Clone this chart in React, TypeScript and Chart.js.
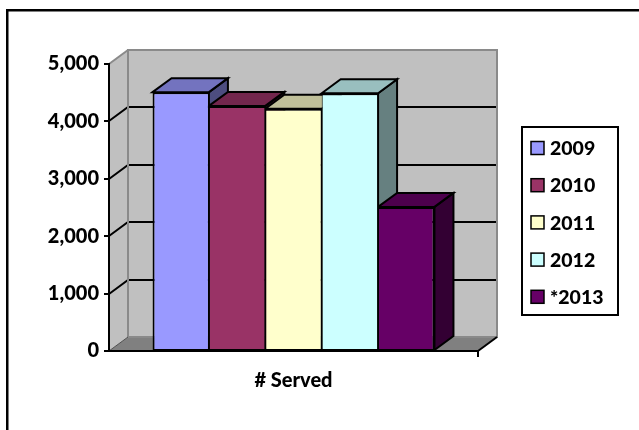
import { useEffect, useRef } from "react";
import { Chart, registerables } from "chart.js";

Chart.register(...registerables);

// Data
const categories = ["# Served"];
const years = ["2009", "2010", "2011", "2012", "*2013"];
const served = [4510, 4270, 4220, 4490, 2510];
const yearColors = ["#9999FF", "#993366", "#FFFFCC", "#CCFFFF", "#660066"];
const yMax = 5000;
const yStep = 1000;

const FONT = "Lato, 'Open Sans', sans-serif";
const WEIGHT = 900;
const DX = 19; // depth offset of the 3D box, x
const DY = -14; // depth offset of the 3D box, y

function shade(hex: string, f: number) {
  const n = parseInt(hex.slice(1), 16);
  const r = Math.round(((n >> 16) & 255) * f);
  const g = Math.round(((n >> 8) & 255) * f);
  const b = Math.round((n & 255) * f);
  return `rgb(${r},${g},${b})`;
}

function poly(
  ctx: CanvasRenderingContext2D,
  pts: number[][],
  fill?: string,
  stroke?: string,
  lw = 2
) {
  ctx.beginPath();
  ctx.moveTo(pts[0][0], pts[0][1]);
  for (let i = 1; i < pts.length; i++) ctx.lineTo(pts[i][0], pts[i][1]);
  ctx.closePath();
  if (fill) {
    ctx.fillStyle = fill;
    ctx.fill();
  }
  if (stroke) {
    ctx.strokeStyle = stroke;
    ctx.lineWidth = lw;
    ctx.stroke();
  }
}

function line(
  ctx: CanvasRenderingContext2D,
  pts: number[][],
  color: string,
  lw: number
) {
  ctx.beginPath();
  ctx.moveTo(pts[0][0], pts[0][1]);
  for (let i = 1; i < pts.length; i++) ctx.lineTo(pts[i][0], pts[i][1]);
  ctx.strokeStyle = color;
  ctx.lineWidth = lw;
  ctx.stroke();
}

const box3d = {
  id: "box3d",
  beforeDraw(chart: any) {
    const { ctx, chartArea: a, scales } = chart;
    const L = a.left, R = a.right, T = a.top, B = a.bottom;
    ctx.save();
    ctx.fillStyle = "#fff";
    ctx.fillRect(0, 0, chart.width, chart.height);

    // outer frame
    ctx.strokeStyle = "#000";
    ctx.lineWidth = 2.5;
    ctx.strokeRect(7.25, 10.25, 800, 600);

    // walls and floor
    poly(ctx, [[L, T], [L + DX, T + DY], [L + DX, B + DY], [L, B]], "#C0C0C0");
    poly(ctx, [[L + DX, T + DY], [R + DX, T + DY], [R + DX, B + DY], [L + DX, B + DY]], "#C0C0C0");
    poly(ctx, [[L, B], [R, B], [R + DX, B + DY], [L + DX, B + DY]], "#808080");

    // gridlines across side wall and back wall
    const y = scales.y;
    for (let v = yStep; v < yMax; v += yStep) {
      const py = Math.round(y.getPixelForValue(v));
      line(ctx, [[L, py], [L + DX, py + DY], [R + DX, py + DY]], "#000", 2);
    }

    // wall edges
    ctx.strokeStyle = "#8a8a8a";
    ctx.lineWidth = 2;
    ctx.strokeRect(L + DX, T + DY, R - L, B - T);
    line(ctx, [[L, T], [L + DX, T + DY]], "#8a8a8a", 2);
    line(ctx, [[L, B], [L + DX, B + DY]], "#505050", 1);
    line(ctx, [[R, B], [R + DX, B + DY]], "#000", 2);
    line(ctx, [[R, B], [R, B + 6]], "#000", 2);
    ctx.restore();
  },
  beforeDatasetsDraw(chart: any) {
    const { ctx } = chart;
    ctx.save();
    ctx.lineJoin = "miter";
    chart.data.datasets.forEach((ds: any, i: number) => {
      const meta = chart.getDatasetMeta(i);
      const color = yearColors[i];
      meta.data.forEach((bar: any) => {
        const { x, y, base, width } = bar.getProps(["x", "y", "base", "width"], true);
        const l = x - width / 2;
        const r = x + width / 2;
        poly(ctx, [[r, y], [r + DX, y + DY], [r + DX, base + DY], [r, base]], shade(color, 0.5), "#000", 2);
        poly(ctx, [[l, y], [l + DX, y + DY], [r + DX, y + DY], [r, y]], shade(color, 0.75), "#000", 2);
      });
    });
    ctx.restore();
  },
  afterDraw(chart: any) {
    const { ctx } = chart;
    ctx.save();
    // legend box
    ctx.fillStyle = "#fff";
    ctx.fillRect(522, 127, 96, 188);
    ctx.strokeStyle = "#000";
    ctx.lineWidth = 2;
    ctx.strokeRect(522, 127, 96, 188);
    ctx.font = `${WEIGHT} 19.5px ${FONT}`;
    ctx.textBaseline = "middle";
    ctx.textAlign = "left";
    years.forEach((yr, i) => {
      const cy = 148 + i * 37.2;
      ctx.fillStyle = yearColors[i];
      ctx.fillRect(531, cy - 6.5, 13, 13);
      ctx.lineWidth = 1.5;
      ctx.strokeStyle = "#000";
      ctx.strokeRect(531, cy - 6.5, 13, 13);
      ctx.fillStyle = "#000";
      ctx.fillText(yr, 550, cy + 1);
    });
    ctx.restore();
  },
};

export default function App() {
  const ref = useRef<HTMLCanvasElement | null>(null);

  useEffect(() => {
    if (!ref.current) return;
    const tickFont = { family: FONT, size: 20, weight: WEIGHT as any };
    const chart = new Chart(ref.current, {
      type: "bar",
      data: {
        labels: categories,
        datasets: years.map((yr, i) => ({
          label: yr,
          data: [served[i]],
          backgroundColor: yearColors[i],
          borderColor: "#000",
          borderWidth: {
            top: 2,
            bottom: 1,
            left: i === 0 ? 2 : 1,
            right: i === years.length - 1 ? 2 : 1,
          },
          borderSkipped: false,
          barPercentage: 1,
          categoryPercentage: 0.764,
        })),
      },
      options: {
        responsive: false,
        animation: false,
        devicePixelRatio: 1,
        layout: { padding: { left: 8, top: 64, right: 161, bottom: 0 } },
        plugins: { legend: { display: false }, tooltip: { enabled: false } },
        scales: {
          x: {
            grid: { display: false, drawTicks: false },
            border: { display: true, color: "#000", width: 2 },
            ticks: { color: "#000", font: tickFont, padding: 18 },
            afterFit: (s: any) => {
              s.height = 79;
            },
          },
          y: {
            min: 0,
            max: yMax,
            grid: {
              display: true,
              drawOnChartArea: false,
              drawTicks: true,
              tickLength: 5,
              color: "#000",
              lineWidth: 2,
            },
            border: { display: true, color: "#000", width: 2 },
            ticks: {
              stepSize: yStep,
              color: "#000",
              padding: 5,
              font: tickFont,
              callback: (v: any) => Number(v).toLocaleString("en-US"),
            },
            afterFit: (s: any) => {
              s.width = 101;
            },
          },
        },
      },
      plugins: [box3d],
    });
    return () => chart.destroy();
  }, []);

  return (
    <div style={{ position: "fixed", left: 0, top: 0, width: 639, height: 430, background: "#fff" }}>
      <canvas ref={ref} width={639} height={430} style={{ display: "block" }} />
    </div>
  );
}
